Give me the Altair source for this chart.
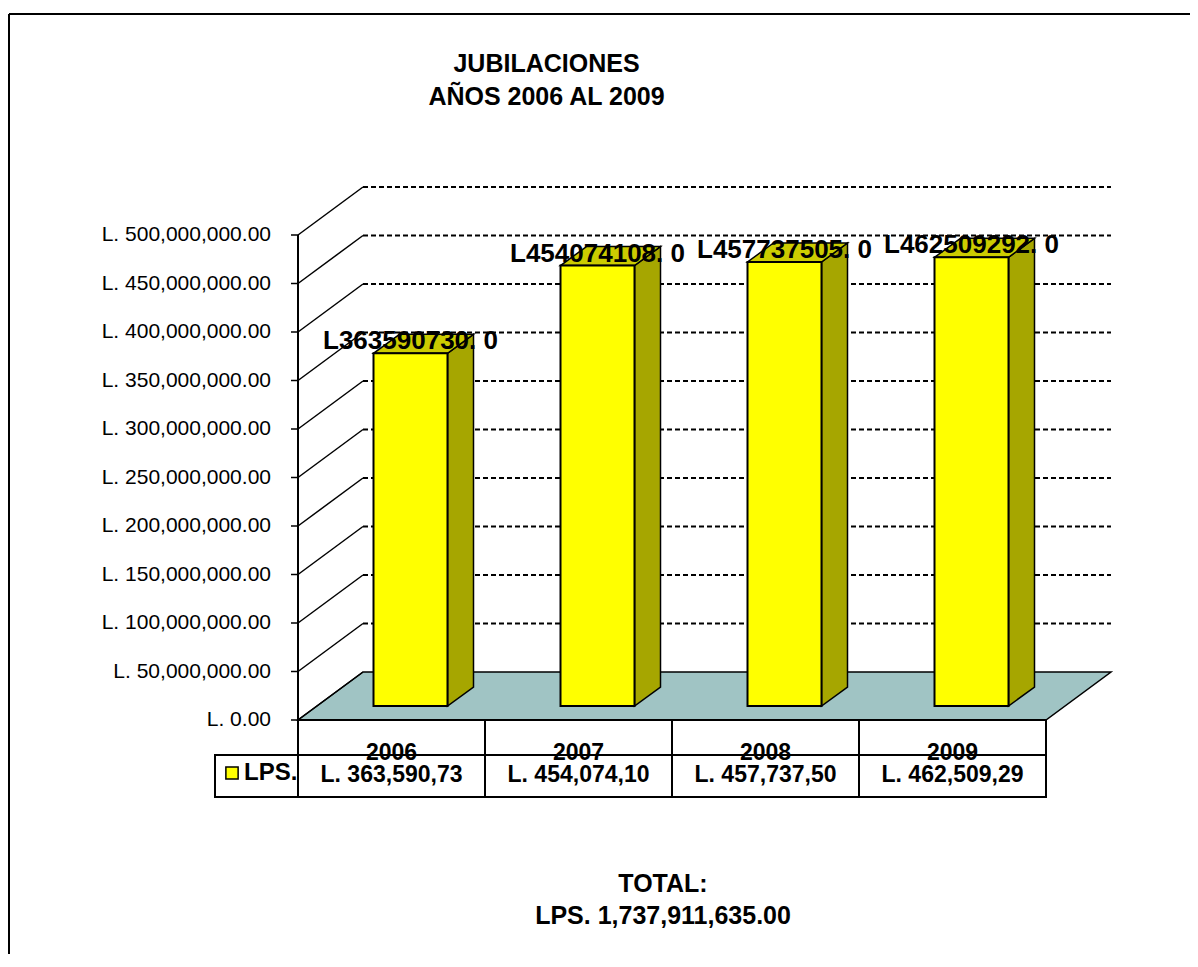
import altair as alt
import pandas as pd

# ---------------- data ----------------
years = ["2006", "2007", "2008", "2009"]
values = [363590730, 454074108, 457737505, 462509292]
table_labels = ["L. 363,590,73", "L. 454,074,10", "L. 457,737,50", "L. 462,509,29"]
tick_values = [0, 50000000, 100000000, 150000000, 200000000, 250000000,
               300000000, 350000000, 400000000, 450000000, 500000000]
tick_labels = ["L. {:,.2f}".format(v) for v in tick_values]
series_name = "LPS."
title_lines = ["JUBILACIONES", "AÑOS 2006 AL 2009"]
total_text = "TOTAL:\nLPS. {:,.2f}".format(sum(values))
bar_labels = ["L{}. 0".format(v) for v in values]

# ---------------- geometry (pixels of the plot area) ----------------
FONT = "Liberation Sans"
W, H = 1181, 940            # plot area (covers the whole frame)
OX, OY = 289, 706           # front origin: first category, value 0
SLOT = 187.0                # pixels per category
PPV = 0.97e-6               # pixels per unit of value


def ux(px):
    return px / SLOT


def vy(px):
    return px / PPV


x_domain = [ux(-OX), ux(W - OX)]
y_domain = [vy(-(H - OY)), vy(OY)]
XS = alt.Scale(domain=x_domain, nice=False, zero=False)
YS = alt.Scale(domain=y_domain, nice=False, zero=False)

WALL_DX, WALL_DY = ux(65), vy(48)      # depth of the 3-D box
BAR_W = ux(74)
BAR_SX, BAR_SY = ux(19), vy(14)        # bar front set back from the floor edge
BAR_DX, BAR_DY = ux(26), vy(19)        # bar depth
ROW1, ROW2 = vy(35), vy(42)            # data table rows
LEG_W = ux(83)
TICK = ux(7)
TOTAL_GAP = vy(95)
N = len(years)


def X(field):
    return alt.X(field, type="quantitative", scale=XS, axis=None)


def Y(field):
    return alt.Y(field, type="quantitative", scale=YS, axis=None)


# ---------------- derived tables ----------------
bars = pd.DataFrame({"year": years, "value": values, "label": bar_labels,
                     "serie": [series_name] * N, "table": table_labels})
bars["i"] = list(range(N))
bars["xl"] = bars["i"] + (1 - BAR_W) / 2 + BAR_SX
bars["xr"] = bars["xl"] + BAR_W
bars["xc"] = (bars["xl"] + bars["xr"]) / 2
bars["yb"] = BAR_SY
bars["yt"] = bars["value"] + BAR_SY
bars["cx"] = bars["i"] + 0.5
bars["row1"] = -ROW1
bars["row2"] = -(ROW1 + ROW2 / 2)

side_rows, top_rows = [], []
for _, r in bars.iterrows():
    side_rows.append({"year": r.year, "x": r.xr, "lo": r.yb, "hi": r.yt})
    side_rows.append({"year": r.year, "x": r.xr + BAR_DX, "lo": r.yb + BAR_DY, "hi": r.yt + BAR_DY})
    top_rows.append({"year": r.year, "y": r.yt, "x1": r.xl, "x2": r.xr})
    top_rows.append({"year": r.year, "y": r.yt + BAR_DY, "x1": r.xl + BAR_DX, "x2": r.xr + BAR_DX})
side_df = pd.DataFrame(side_rows)
top_df = pd.DataFrame(top_rows)

floor_df = pd.DataFrame({"y": [0, WALL_DY], "x1": [0, WALL_DX], "x2": [N, N + WALL_DX]})
ticks_df = pd.DataFrame({"v": tick_values, "label": tick_labels,
                         "x0": [-TICK] * len(tick_values), "x1": [0] * len(tick_values),
                         "x2": [WALL_DX] * len(tick_values),
                         "v2": [v + WALL_DY for v in tick_values]})
grid_df = pd.DataFrame({"x1": [WALL_DX] * (len(tick_values) - 1),
                        "x2": [N + WALL_DX] * (len(tick_values) - 1),
                        "y": [v + WALL_DY for v in tick_values[1:]]})

cell_rows = []
for i in range(N):
    cell_rows.append({"x1": i, "x2": i + 1, "y1": 0, "y2": -ROW1})
    cell_rows.append({"x1": i, "x2": i + 1, "y1": -ROW1, "y2": -(ROW1 + ROW2)})
cell_rows.append({"x1": -LEG_W, "x2": 0, "y1": -ROW1, "y2": -(ROW1 + ROW2)})
cells_df = pd.DataFrame(cell_rows)

axis_df = pd.DataFrame({"x": [0], "y1": [0], "y2": [max(tick_values)]})
total_df = pd.DataFrame({"x": [N / 2], "y": [-(ROW1 + ROW2) - TOTAL_GAP], "text": [total_text]})

# ---------------- layers ----------------
one = pd.DataFrame({"k": [0]})
frame_top = alt.Chart(one).mark_rule(color="black", strokeWidth=2).encode(
    x=alt.value(0), x2=alt.value(W + 20), y=alt.value(0))
frame_left = alt.Chart(one).mark_rule(color="black", strokeWidth=2).encode(
    x=alt.value(0), y=alt.value(0), y2=alt.value(H + 20))

floor = alt.Chart(floor_df).mark_area(
    orient="horizontal", fill="#A0C4C4", stroke="black", strokeWidth=1.5
).encode(y=Y("y"), x=X("x1"), x2=alt.X2("x2"))

diag = alt.Chart(ticks_df).mark_rule(color="black", strokeWidth=1.5).encode(
    x=X("x1"), x2=alt.X2("x2"), y=Y("v"), y2=alt.Y2("v2"))

tick_marks = alt.Chart(ticks_df).mark_rule(color="black", strokeWidth=1.5).encode(
    x=X("x0"), x2=alt.X2("x1"), y=Y("v"))

tick_text = alt.Chart(ticks_df).mark_text(
    font=FONT, fontSize=21, color="black", align="right", baseline="middle", dx=-20
).encode(x=X("x0"), y=Y("v"), text="label:N")

grid = alt.Chart(grid_df).mark_rule(color="black", strokeWidth=1.8, strokeDash=[5, 3]).encode(
    x=X("x1"), x2=alt.X2("x2"), y=Y("y"))

side = alt.Chart(side_df).mark_area(
    orient="vertical", fill="#A6A600", stroke="black", strokeWidth=1.5
).encode(x=X("x"), y=Y("hi"), y2=alt.Y2("lo"), detail="year:N")

top = alt.Chart(top_df).mark_area(
    orient="horizontal", fill="#CCCC00", stroke="black", strokeWidth=1.5
).encode(y=Y("y"), x=X("x1"), x2=alt.X2("x2"), detail="year:N")

front = alt.Chart(bars).mark_rect(stroke="black", strokeWidth=2).encode(
    x=X("xl"), x2=alt.X2("xr"), y=Y("yb"), y2=alt.Y2("yt"),
    color=alt.Color("serie:N",
                    scale=alt.Scale(domain=[series_name], range=["#FFFF00"]),
                    legend=alt.Legend(title=None, orient="none", legendX=211, legendY=747,
                                      symbolType="square", symbolSize=150,
                                      symbolStrokeColor="black", symbolStrokeWidth=1.5,
                                      labelFont=FONT, labelFontSize=24, labelFontWeight="bold",
                                      labelColor="black", labelOffset=0, padding=0)))

labels = alt.Chart(bars).mark_text(
    font=FONT, fontSize=26, fontWeight="bold", color="black", baseline="middle", dy=-12
).encode(x=X("xc"), y=Y("yt"), text="label:N")

cells = alt.Chart(cells_df).mark_rect(fill="white", stroke="black", strokeWidth=2).encode(
    x=X("x1"), x2=alt.X2("x2"), y=Y("y1"), y2=alt.Y2("y2"))

year_text = alt.Chart(bars).mark_text(
    font=FONT, fontSize=23, fontWeight="bold", color="black", baseline="alphabetic", dy=5
).encode(x=X("cx"), y=Y("row1"), text="year:N")

value_text = alt.Chart(bars).mark_text(
    font=FONT, fontSize=23, fontWeight="bold", color="black", baseline="middle", dy=-1
).encode(x=X("cx"), y=Y("row2"), text="table:N")

axis_line = alt.Chart(axis_df).mark_rule(color="black", strokeWidth=2).encode(
    x=X("x"), y=Y("y1"), y2=alt.Y2("y2"))

total = alt.Chart(total_df).mark_text(
    font=FONT, fontSize=25, fontWeight="bold", color="black", align="center",
    baseline="alphabetic", lineBreak="\n", lineHeight=32, dx=-9
).encode(x=X("x"), y=Y("y"), text="text:N")

chart = alt.layer(
    floor, diag, tick_marks, tick_text, grid, side, top, front, labels, cells,
    year_text, value_text, axis_line, total, frame_top, frame_left
).properties(
    width=W, height=H,
    padding={"left": 1, "top": 6, "right": 0, "bottom": 0},
    autosize=alt.AutoSizeParams(type="none"),
    background="white",
    title=alt.TitleParams(text=title_lines, anchor="middle", frame="group", dx=-53,
                          offset=-97, baseline="top", font=FONT, fontSize=25,
                          fontWeight="bold", color="black", lineHeight=33),
).configure_view(strokeWidth=0)

chart.save("out.html", embed_options={"renderer": "svg", "actions": False})
